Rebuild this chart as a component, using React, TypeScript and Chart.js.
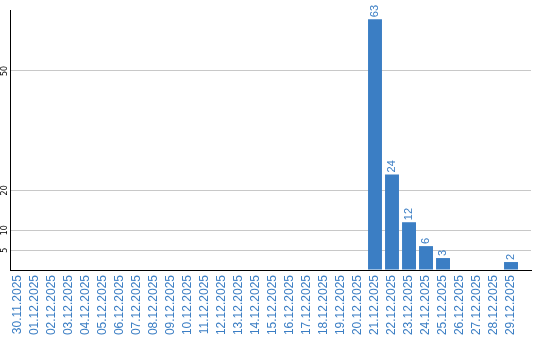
import React, { useEffect, useRef } from "react";
import { Chart, registerables } from "chart.js";

Chart.register(...registerables);

const categories: string[] = [
  "30.11.2025", "01.12.2025", "02.12.2025", "03.12.2025", "04.12.2025",
  "05.12.2025", "06.12.2025", "07.12.2025", "08.12.2025", "09.12.2025",
  "10.12.2025", "11.12.2025", "12.12.2025", "13.12.2025", "14.12.2025",
  "15.12.2025", "16.12.2025", "17.12.2025", "18.12.2025", "19.12.2025",
  "20.12.2025", "21.12.2025", "22.12.2025", "23.12.2025", "24.12.2025",
  "25.12.2025", "26.12.2025", "27.12.2025", "28.12.2025", "29.12.2025",
];

const counts: number[] = [
  0, 0, 0, 0, 0, 0, 0, 0, 0, 0,
  0, 0, 0, 0, 0, 0, 0, 0, 0, 0,
  0, 63, 24, 12, 6, 3, 0, 0, 0, 2,
];

const yTicks: number[] = [5, 10, 20, 50];
const yMax = 65.3;

const BLUE = "#3b7ec4";

const barLabelPlugin = {
  id: "barLabels",
  afterDatasetsDraw(chart: any) {
    const ctx = chart.ctx;
    const meta = chart.getDatasetMeta(0);
    ctx.save();
    ctx.fillStyle = BLUE;
    ctx.font = "11px 'Liberation Sans', Arial, sans-serif";
    ctx.textAlign = "left";
    ctx.textBaseline = "middle";
    meta.data.forEach((bar: any, i: number) => {
      const v = counts[i];
      if (!v) return;
      ctx.save();
      ctx.translate(bar.x, bar.y - 2);
      ctx.rotate(-Math.PI / 2);
      ctx.fillText(String(v), 0, 0);
      ctx.restore();
    });
    ctx.restore();
  },
};

const yLabelPlugin = {
  id: "yLabels",
  afterDraw(chart: any) {
    const ctx = chart.ctx;
    const ys = chart.scales.y;
    ctx.save();
    ctx.fillStyle = "#000";
    ctx.font = "8px 'DejaVu Sans', sans-serif";
    ctx.textAlign = "center";
    ctx.textBaseline = "middle";
    yTicks.forEach((v) => {
      const y = ys.getPixelForValue(v);
      ctx.save();
      ctx.translate(5, y);
      ctx.rotate(-Math.PI / 2);
      ctx.fillText(String(v), 0, 0);
      ctx.restore();
    });
    ctx.restore();
  },
};

export default function App() {
  const ref = useRef<HTMLCanvasElement | null>(null);

  useEffect(() => {
    document.body.style.margin = "0";
    const canvas = ref.current;
    if (!canvas) return;
    const chart = new Chart(canvas, {
      type: "bar",
      data: {
        datasets: [
          {
            data: counts.map((v, i) => ({ x: i, y: v })),
            backgroundColor: BLUE,
            borderWidth: 0,
            barPercentage: 0.82,
            categoryPercentage: 1,
          },
        ],
      },
      options: {
        animation: false,
        responsive: false,
        maintainAspectRatio: false,
        layout: { padding: { top: 10, right: 9, left: 0, bottom: 0 } },
        plugins: {
          legend: { display: false },
          tooltip: { enabled: false },
        },
        scales: {
          x: {
            type: "linear",
            offset: false,
            min: -0.4706,
            max: 30.176,
            afterBuildTicks: (axis: any) => {
              axis.ticks = categories.map((_, i) => ({ value: i }));
            },
            afterFit: (axis: any) => {
              axis.height = 70;
              axis.paddingLeft = 0;
              axis.paddingRight = 0;
            },
            grid: { display: false, drawTicks: false, offset: false },
            border: { display: true, color: "#000", width: 1 },
            ticks: {
              autoSkip: false,
              minRotation: 90,
              maxRotation: 90,
              padding: 5,
              color: BLUE,
              font: { family: "'Liberation Sans', Arial, sans-serif", size: 12 },
              callback: (value: any) => categories[value] ?? "",
            },
          },
          y: {
            type: "linear",
            min: 0,
            max: yMax,
            afterBuildTicks: (axis: any) => {
              axis.ticks = [0, ...yTicks, yMax].map((v) => ({ value: v }));
            },
            afterFit: (axis: any) => {
              axis.width = 10;
              axis.paddingTop = 0;
              axis.paddingBottom = 0;
            },
            grid: {
              drawTicks: false,
              color: (c: any) =>
                c.tick && yTicks.includes(c.tick.value) ? "#c8c8c8" : "rgba(0,0,0,0)",
            },
            border: { display: true, color: "#000", width: 1 },
            ticks: { display: false },
          },
        },
      },
      plugins: [barLabelPlugin, yLabelPlugin],
    });
    return () => chart.destroy();
  }, []);

  return (
    <div style={{ width: 540, height: 340 }}>
      <canvas ref={ref} width={540} height={340} style={{ display: "block" }} />
    </div>
  );
}
